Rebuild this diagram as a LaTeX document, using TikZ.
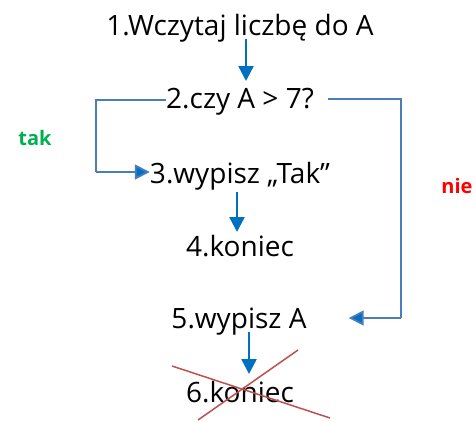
\documentclass[tikz,border=0pt]{standalone}
\usepackage{fontspec}
\setmainfont{Open Sans}
\usetikzlibrary{arrows.meta,calc}
\definecolor{arrblue}{HTML}{0070C0}
\definecolor{lineblue}{HTML}{4A7EBB}
\definecolor{takgreen}{HTML}{00B050}
\definecolor{xred}{HTML}{C0504D}
\begin{document}
\begin{tikzpicture}[x=1pt,y=-1pt,
  txt/.style={inner sep=0pt,anchor=base,font=\fontsize{28}{32}\selectfont},
  arr/.style={draw=arrblue,line width=2.5pt,-{Triangle[length=15pt,width=15pt]}},
  brk/.style={draw=lineblue,line width=1.8pt},
  brkarr/.style={brk,-{Triangle[length=15pt,width=15pt,fill=arrblue]}},
  lbl/.style={inner sep=0pt,font=\fontsize{20}{24}\selectfont\bfseries}]
\useasboundingbox (0,0) rectangle (476,421);
\node[txt] (n1) at (240,35) {1.Wczytaj liczbę do A};
\node[txt] (n2) at (240,108) {2.czy A > 7?};
\node[txt] (n3) at (240,183) {3.wypisz „Tak”};
\node[txt] (n4) at (240,256) {4.koniec};
\node[txt] (n5) at (239,328) {5.wypisz A};
\node[txt] (n6) at (240,402) {6.koniec};
\node[lbl,text=takgreen] (tak) at (35,138) {tak};
\node[lbl,text=red] (nie) at (457,186) {nie};
\coordinate (lt) at (96,100);
\coordinate (lb) at (96,172);
\coordinate (rt) at (401,99);
\coordinate (rb) at (401,318);
\draw[arr] (246,39) -- (246,81);
\draw[brk] (n2.west |- lt) -- (lt) -- (lb);
\draw[brkarr] (lb) -- (n3.west |- lb);
\draw[brk] ([xshift=14pt]n2.east |- rt) -- (rt) -- (rb);
\draw[brkarr] (rb) -- ([xshift=42pt]n5.east |- rb);
\draw[arr] (237,192) -- (237,232);
\draw[arr] (249,332) -- (249,374);
\draw[xred,line width=1.5pt] (172,366) -- (330,418);
\draw[xred,line width=1.5pt] (298,350) -- (198,420);
\end{tikzpicture}
\end{document}
